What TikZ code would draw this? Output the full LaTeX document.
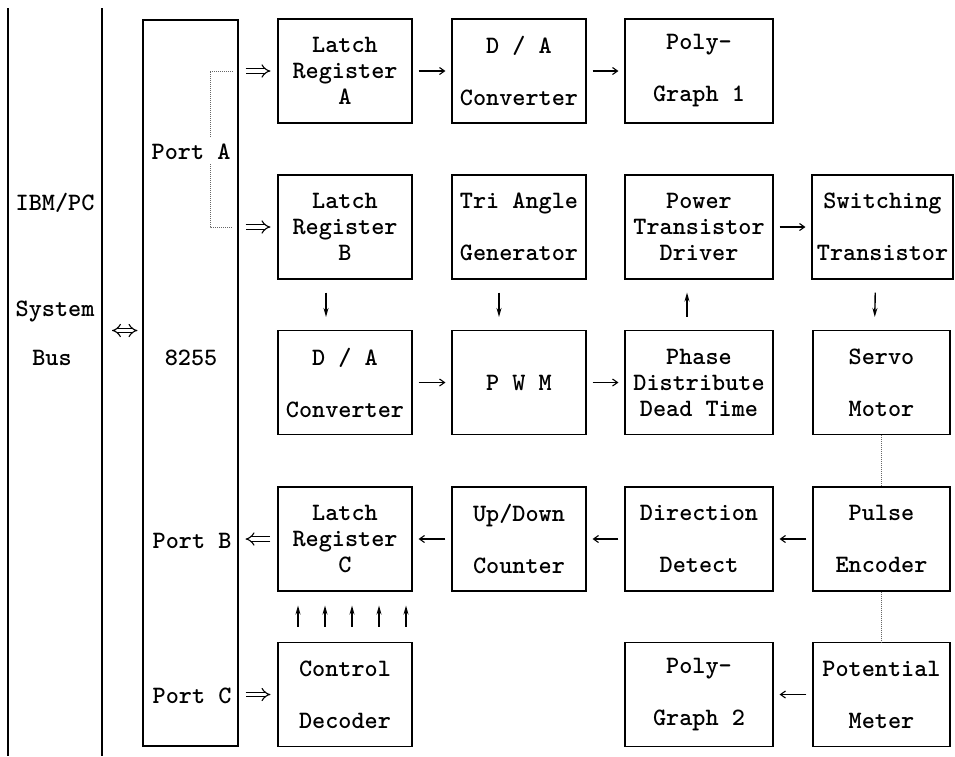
\documentclass[tikz,border=0pt]{standalone}
\usepackage{fontspec}
\usetikzlibrary{arrows.meta}
\newcommand\blkfont{\ttfamily\bfseries\fontsize{25}{26}\selectfont}
\tikzset{
  blk/.style={draw=black,line width=1.1pt,minimum width=134pt,minimum height=104pt,inner sep=0pt,align=center,font=\blkfont},
  lbl/.style={inner sep=0pt,font=\blkfont},
  arr/.style={-{Straight Barb[length=5pt,width=7pt]},line width=1.1pt,shorten <=6pt,shorten >=6pt},
  varr/.style={-{Stealth[length=9pt,width=5pt]},line width=1.4pt,shorten <=13pt,shorten >=13pt},
  uarr/.style={-{Stealth[length=9pt,width=5pt]},line width=1.4pt,shorten <=15pt,shorten >=14pt},
  darr/.style={-{Implies},double,double distance=3.5pt,line width=1.1pt,shorten <=7pt,shorten >=7pt},
  dotl/.style={densely dotted,line width=1pt,black!60},
  bus/.style={line width=1.1pt},
}
\begin{document}
\begin{tikzpicture}[x=1pt,y=-1pt]
  \useasboundingbox (0,0) rectangle (955,756);
  % system bus and 8255
  \draw[bus] (8,8) -- (8,756); \draw[bus] (102,8) -- (102,756);
  \node[lbl] (ibm) at (55,203) {IBM/PC};
  \node[lbl] (sys) at (55,311) {System};
  \node[lbl] (bs) at (52,358) {Bus};
  \coordinate (busR) at (102,330.5);
  \node[draw,line width=1.1pt,minimum width=95pt,minimum height=726pt,inner sep=0pt] (ppi) at (190.5,383) {};
  \node[lbl] (pa) at (191,152) {Port A};
  \node[lbl] (chip) at (191,358) {8255};
  \node[lbl] (pb) at (192,541) {Port B};
  \node[lbl] (pc) at (192,696) {Port C};
  % row 1
  \node[blk] (la) at (345,71) {Latch\\Register\\A};
  \node[blk] (da1) at (519,71) {D / A\\[26pt]Converter};
  \node[blk,minimum width=148pt] (pg1) at (699,71) {Poly-\\[26pt]Graph 1};
  % row 2
  \node[blk] (lb) at (345,227) {Latch\\Register\\B};
  \node[blk] (tri) at (519,227) {Tri Angle\\[26pt]Generator};
  \node[blk,minimum width=148pt] (ptd) at (699,227) {Power\\Transistor\\Driver};
  \node[blk,minimum width=141pt] (swt) at (882.5,227) {Switching\\[26pt]Transistor};
  % row 3
  \node[blk] (da2) at (345,382.5) {D / A\\[26pt]Converter};
  \node[blk] (pwm) at (519,382.5) {P W M};
  \node[blk,minimum width=148pt] (phd) at (699,382.5) {Phase\\Distribute\\Dead Time};
  \node[blk,minimum width=137pt] (sm) at (881.5,382.5) {Servo\\[26pt]Motor};
  % row 4
  \node[blk] (lc) at (345,539) {Latch\\Register\\C};
  \node[blk] (udc) at (519,539) {Up/Down\\[26pt]Counter};
  \node[blk,minimum width=148pt] (dd) at (699,539) {Direction\\[26pt]Detect};
  \node[blk,minimum width=137pt] (pe) at (881.5,539) {Pulse\\[26pt]Encoder};
  % row 5
  \node[blk] (cd) at (345,694.5) {Control\\[26pt]Decoder};
  \node[blk,minimum width=148pt] (pg2) at (699,694.5) {Poly-\\[26pt]Graph 2};
  \node[blk,minimum width=137pt] (pm) at (881.5,694.5) {Potential\\[26pt]Meter};
  % double arrows
  \draw[darr,{Implies}-{Implies},shorten <=10pt,shorten >=5pt] (busR) -- (ppi.west |- busR);
  \draw[darr] (ppi.east |- la) -- (la);
  \draw[darr] (ppi.east |- lb) -- (lb);
  \draw[darr] (lc) -- (ppi.east |- lc);
  \draw[darr] (ppi.east |- cd) -- (cd);
  \draw[dotl] ([xshift=-6pt]ppi.east |- la) -| (210,137);
  \draw[dotl] (210,164) |- ([xshift=-6pt]ppi.east |- lb);
  % signal flow
  \draw[arr] (la) -- (da1); \draw[arr] (da1) -- (pg1);
  \draw[arr] (ptd) -- (swt);
  \draw[arr] (da2) -- (pwm); \draw[arr] (pwm) -- (phd);
  \draw[arr] (udc) -- (lc); \draw[arr] (dd) -- (udc); \draw[arr] (pe) -- (dd);
  \draw[arr] (pm) -- (pg2);
  \draw[varr] ([xshift=-19pt]lb.south) -- ([xshift=-19pt]da2.north);
  \draw[varr] ([xshift=-20pt]tri.south) -- ([xshift=-20pt]pwm.north);
  \draw[varr] ([xshift=-12pt]phd.north) -- ([xshift=-12pt]ptd.south);
  \draw[varr] ([xshift=-7pt]swt.south) -- ([xshift=-7pt]sm.north);
  \foreach \dx in {-47,-20,7,34,61}
    \draw[uarr] ([xshift=\dx pt]cd.north) -- ([xshift=\dx pt]lc.south);
  \draw[dotl] (sm) -- (pe); \draw[dotl] (pe) -- (pm);
\end{tikzpicture}
\end{document}
